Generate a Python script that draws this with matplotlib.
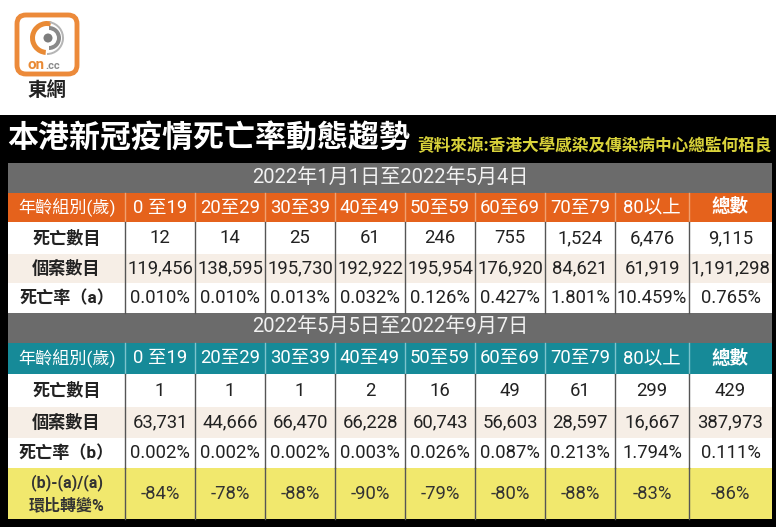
import matplotlib
matplotlib.use('Agg')
import matplotlib.pyplot as plt
from matplotlib.patches import Rectangle, FancyBboxPatch, Wedge, Circle

plt.rcParams['font.family'] = ['Roboto', 'Noto Sans CJK TC', 'DejaVu Sans']

title = '本港新冠疫情死亡率動態趨勢'
source = '資料來源:香港大學感染及傳染病中心總監何栢良'
period1 = '2022年1月1日至2022年5月4日'
period2 = '2022年5月5日至2022年9月7日'
age_groups = ['0 至19', '20至29', '30至39', '40至49', '50至59', '60至69', '70至79', '80以上', '總數']

deaths1 = ['12', '14', '25', '61', '246', '755', '1,524', '6,476', '9,115']
cases1 = ['119,456', '138,595', '195,730', '192,922', '195,954', '176,920', '84,621', '61,919', '1,191,298']
rate1 = ['0.010%', '0.010%', '0.013%', '0.032%', '0.126%', '0.427%', '1.801%', '10.459%', '0.765%']

deaths2 = ['1', '1', '1', '2', '16', '49', '61', '299', '429']
cases2 = ['63,731', '44,666', '66,470', '66,228', '60,743', '56,603', '28,597', '16,667', '387,973']
rate2 = ['0.002%', '0.002%', '0.002%', '0.003%', '0.026%', '0.087%', '0.213%', '1.794%', '0.111%']

change = ['-84%', '-78%', '-88%', '-90%', '-79%', '-80%', '-88%', '-83%', '-86%']

# colours
ORANGE = '#e5621c'
TEAL = '#168a98'
GRAY = '#6b6b6b'
YELLOW = '#f1e86d'
BEIGE = '#f6eee6'
LINE = '#555555'

fig = plt.figure(figsize=(7.8, 5.27), dpi=100)
ax = fig.add_axes([0, 0, 1, 1])
ax.set_xlim(0, 780)
ax.set_ylim(527, 0)
ax.axis('off')

def rect(x0, y0, x1, y1, color, z=1):
    ax.add_patch(Rectangle((x0, y0), x1 - x0, y1 - y0, facecolor=color, edgecolor='none', zorder=z))

# logo
ax.add_patch(FancyBboxPatch((17, 15), 60, 59, boxstyle='round,pad=0,rounding_size=9',
                            facecolor='white', edgecolor='#ec8a3a', linewidth=3.5, zorder=2))
ax.add_patch(Wedge((47, 38), 17, 95, 285, width=5, facecolor='#e98a35', edgecolor='none', zorder=3))
ax.add_patch(Wedge((49, 38), 12, -90, 90, width=4, facecolor='#8a8a8a', edgecolor='none', zorder=3))
ax.add_patch(Wedge((47, 38), 17, -80, 90, width=2, facecolor='#b5b5b5', edgecolor='none', zorder=3))
ax.add_patch(Circle((48, 38), 4.5, facecolor='#7d7d7d', edgecolor='none', zorder=3))
ax.text(45, 65, 'on', color='#e98a35', fontsize=11, fontweight='bold', ha='right', va='center', zorder=3)
ax.text(45, 66, '.cc', color='#8a8a8a', fontsize=8, fontweight='bold', ha='left', va='center', zorder=3)
ax.text(47, 91, '東網', color='#222222', fontsize=14, fontweight='bold', ha='center', va='center',
        family=['Noto Sans CJK TC'])

# black panel
rect(0, 115, 776, 527, 'black', 0)
ax.text(7, 139, title, color='white', fontsize=22.3, fontweight='bold', ha='left', va='center',
        family=['Noto Sans CJK TC'])
ax.text(772, 146, source, color='#d8d23a', fontsize=12, fontweight='bold', ha='right', va='center',
        family=['Noto Sans CJK TC'])

xs = [8, 125, 195, 265, 335, 405, 475, 545, 615, 689, 772]
L, R = xs[0], xs[-1]
centers = [(xs[i] + xs[i + 1]) / 2 for i in range(len(xs) - 1)]

def header(y0, y1, color, sep, label_rows):
    rect(L, y0, R, y1, color)
    for x in xs[1:-1]:
        ax.plot([x, x], [y0, y1], color=sep, lw=1, zorder=2)
    ax.text(centers[0], (y0 + y1) / 2, label_rows[0], color='white', fontsize=12.3, ha='center', va='center')
    for c, s in zip(centers[1:], label_rows[1:]):
        weight = 'bold' if s == '總數' else 'normal'
        ax.text(c, (y0 + y1) / 2, s, color='white', fontsize=13.3, ha='center', va='center', fontweight=weight)

def body(ys, labels, rows):
    for i, (lab, vals) in enumerate(zip(labels, rows)):
        y0, y1 = ys[i], ys[i + 1]
        rect(L, y0, R, y1, BEIGE if i == 1 else 'white')
        yc = (y0 + y1) / 2
        ax.text(centers[0], yc, lab, color='#222222', fontsize=12.3, fontweight='bold', ha='center', va='center')
        for c, v in zip(centers[1:], vals):
            ax.text(c, yc, v, color='#222222', fontsize=13.3, ha='center', va='center')
    for x in xs[1:-1]:
        ax.plot([x, x], [ys[0], ys[-1]], color=LINE, lw=1, zorder=2)

# block 1
rect(L, 163, R, 193, GRAY)
ax.text((L + R) / 2, 178.5, period1, color='#f2f2f2', fontsize=14.5, ha='center', va='center')
header(193, 222, ORANGE, '#f0a070', ['年齡組別(歲)'] + age_groups)
body([222, 254, 283, 313], ['死亡數目', '個案數目', '死亡率（a）'], [deaths1, cases1, rate1])

# block 2
rect(L, 313, R, 343, GRAY)
ax.text((L + R) / 2, 327.5, period2, color='#f2f2f2', fontsize=14.5, ha='center', va='center')
header(343, 374, TEAL, '#7cc3cc', ['年齡組別(歲)'] + age_groups)
body([374, 407, 438, 468], ['死亡數目', '個案數目', '死亡率（b）'], [deaths2, cases2, rate2])

# change row
rect(L, 468, R, 519, YELLOW)
for x in xs[1:-1]:
    ax.plot([x, x], [468, 519], color=LINE, lw=1, zorder=2)
ax.text(centers[0], 483, '(b)-(a)/(a)', color='#333333', fontsize=11.5, fontweight='bold', ha='center', va='center')
ax.text(centers[0], 505, '環比轉變%', color='#333333', fontsize=11.5, fontweight='bold', ha='center', va='center')
for c, v in zip(centers[1:], change):
    ax.text(c, 494, v, color='#333333', fontsize=13.3, ha='center', va='center')

fig.savefig('out.png', dpi=100, facecolor='white')
